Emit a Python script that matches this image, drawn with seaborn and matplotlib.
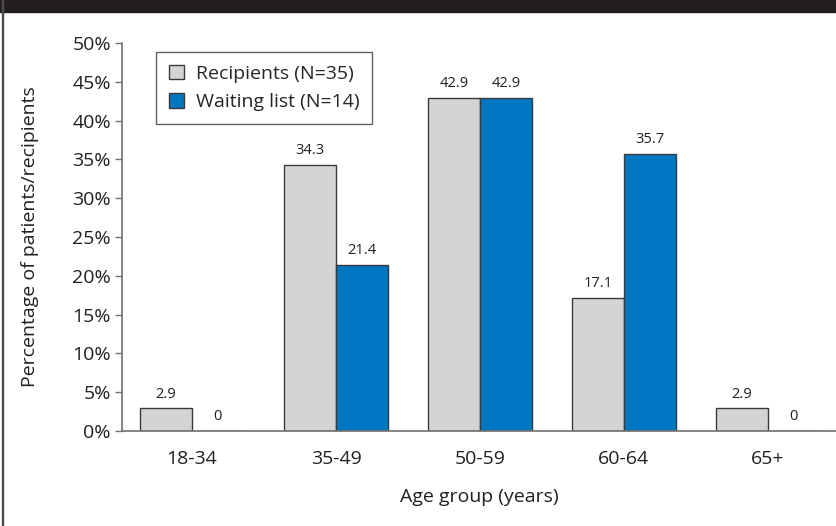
import matplotlib
matplotlib.use("Agg")
import matplotlib.pyplot as plt
import matplotlib.patches as mpatches
from matplotlib.ticker import PercentFormatter
import pandas as pd
import seaborn as sns

age_groups = ["18-34", "35-49", "50-59", "60-64", "65+"]
recipients = [2.9, 34.3, 42.9, 17.1, 2.9]
waiting_list = [0, 21.4, 42.9, 35.7, 0]
series_names = ["Recipients (N=35)", "Waiting list (N=14)"]
y_ticks = [0, 5, 10, 15, 20, 25, 30, 35, 40, 45, 50]

df = pd.DataFrame({
    "age": age_groups * 2,
    "value": recipients + waiting_list,
    "group": [series_names[0]] * len(age_groups) + [series_names[1]] * len(age_groups),
})

sns.set_theme(style="white")
plt.rcParams["font.family"] = ["Open Sans", "DejaVu Sans"]

grey = "#d3d4d6"
blue = "#0077c1"
edge = "#3a3a3a"
axis_col = "#707070"
text_col = "#231f20"

fig = plt.figure(figsize=(8.37, 5.26), dpi=100)
fig.patch.set_facecolor("white")

# dark header band and thin left rule
fig.patches.append(mpatches.Rectangle((0, 1 - 11.5 / 526), 1, 11.5 / 526,
                                      transform=fig.transFigure, color=text_col, zorder=0))
fig.patches.append(mpatches.Rectangle((2 / 837, 0), 1.1 / 837, 1,
                                      transform=fig.transFigure, color="#4a4a50", zorder=0))

ax = fig.add_axes([122 / 837, 95 / 526, 1 - 122 / 837, (431 - 43) / 526])
sns.barplot(data=df, x="age", y="value", hue="group", order=age_groups,
            hue_order=series_names, palette=[grey, blue], width=0.72,
            edgecolor=edge, linewidth=1.0, ax=ax, saturation=1)

for container in ax.containers:
    labels = [f"{v:g}" for v in container.datavalues]
    ax.bar_label(container, labels=labels, padding=5, fontsize=10.5, color=text_col)

ax.set_ylim(0, 50)
ax.set_xlim(-0.486, 4.48)
ax.set_yticks(y_ticks)
ax.yaxis.set_major_formatter(PercentFormatter(decimals=0))
ax.tick_params(axis="y", direction="out", length=5, width=1, color=axis_col,
               labelsize=14, labelcolor=text_col, pad=3, left=True)
ax.tick_params(axis="x", length=0, labelsize=14, labelcolor=text_col, pad=14)

for side in ["top", "right"]:
    ax.spines[side].set_visible(False)
for side in ["left", "bottom"]:
    ax.spines[side].set_color(axis_col)
    ax.spines[side].set_linewidth(1.2)

ax.set_xlabel("Age group (years)", fontsize=14, color=text_col, labelpad=14)
ax.set_ylabel("Percentage of patients/recipients", fontsize=14, color=text_col, labelpad=24)

leg = ax.legend(loc="upper left", bbox_to_anchor=(0.048, 0.977), fontsize=14,
                frameon=True, fancybox=False, edgecolor=edge, handlelength=0.75,
                handleheight=0.75, handletextpad=0.65, borderpad=0.65, labelspacing=0.55,
                borderaxespad=0)
leg.get_frame().set_linewidth(1.0)
for h in leg.legend_handles:
    h.set_edgecolor(edge)
    h.set_linewidth(1.0)

fig.savefig("out.png", dpi=100)
